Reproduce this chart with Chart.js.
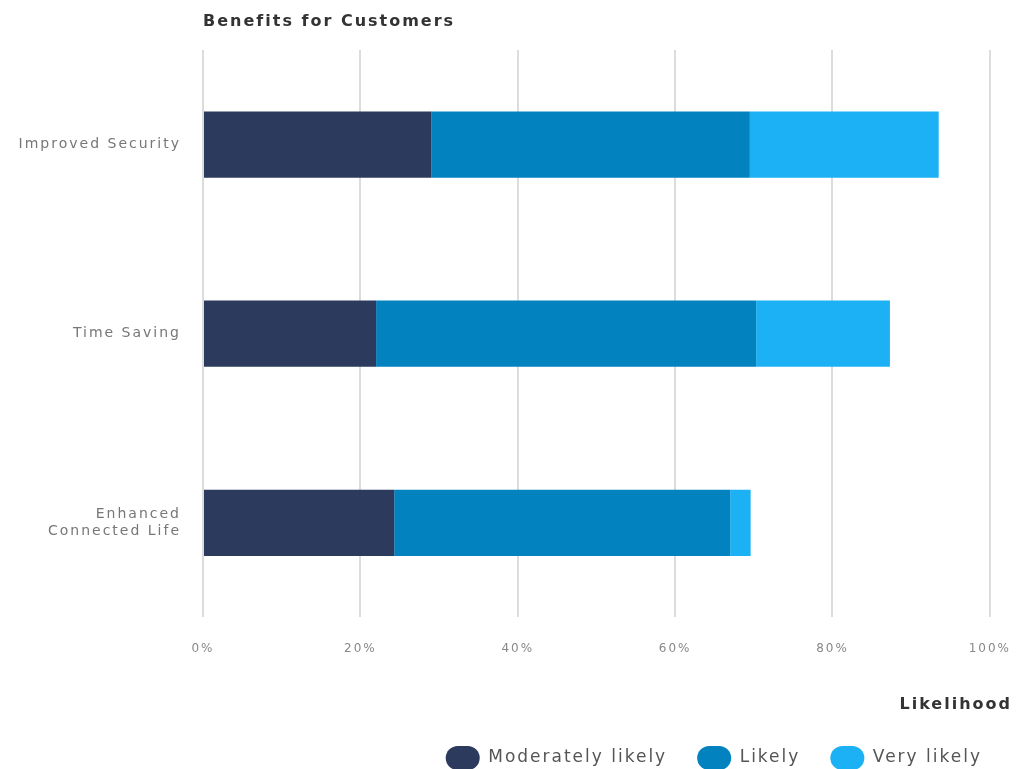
<!DOCTYPE html>
<html>
<head>
<meta charset="utf-8">
<script src="https://cdn.jsdelivr.net/npm/chart.js@4.4.0/dist/chart.umd.min.js"></script>
<style>
  body { margin: 0; background: #fff; }
  #wrap { width: 1018px; height: 769px; position: relative; }
</style>
</head>
<body>
<div id="wrap"><canvas id="benefitschart"></canvas></div>
<script>
// categories + series (percent)
const categories = ["Improved Security", "Time Saving", ["Enhanced", "Connected Life"]];
const moderatelyLikely = [29, 22, 24.3];
const likely = [40.5, 48.3, 42.7];
const veryLikely = [24, 17, 2.6];
const seriesNames = ["Moderately likely", "Likely", "Very likely"];
const seriesColors = ["#2c3a5e", "#0283bf", "#1cb0f4"];

const fontFamily = "'DejaVu Sans', sans-serif";

// wide, letter-spaced text like the original
const spacing = {
  id: "spacing",
  beforeLayout(chart) {
    chart.ctx.letterSpacing = "2px";
  },
  beforeDraw(chart) {
    chart.ctx.letterSpacing = "2px";
  },
};

// title drawn aligned to the plot area's left edge
const leftTitle = {
  id: "leftTitle",
  afterDraw(chart) {
    const ctx = chart.ctx;
    ctx.save();
    ctx.letterSpacing = "2px";
    ctx.font = "bold 16px " + fontFamily;
    ctx.fillStyle = "#333";
    ctx.textBaseline = "middle";
    ctx.textAlign = "left";
    ctx.fillText("Benefits for Customers", chart.chartArea.left, 22);
    ctx.restore();
  },
};

const ctx = document.getElementById("benefitschart").getContext("2d");
const benefitsChart = new Chart(ctx, {
  type: "bar",
  data: {
    labels: categories,
    datasets: [
      { label: seriesNames[0], data: moderatelyLikely, backgroundColor: seriesColors[0] },
      { label: seriesNames[1], data: likely, backgroundColor: seriesColors[1] },
      { label: seriesNames[2], data: veryLikely, backgroundColor: seriesColors[2] },
    ],
  },
  options: {
    indexAxis: "y",
    responsive: true,
    maintainAspectRatio: false,
    animation: false,
    layout: { padding: { top: 50, right: 6, left: 0, bottom: -11 } },
    datasets: {
      bar: { categoryPercentage: 1, barPercentage: 0.35 },
    },
    scales: {
      x: {
        stacked: true,
        min: 0,
        max: 100,
        border: { display: false },
        grid: {
          color: "#dcdcdc",
          lineWidth: 2,
          drawTicks: true,
          tickLength: 17,
          tickColor: "rgba(0,0,0,0)",
        },
        ticks: {
          stepSize: 20,
          padding: 7,
          color: "#888",
          font: { family: fontFamily, size: 12 },
          callback: (v) => v + "%",
        },
      },
      y: {
        stacked: true,
        border: { display: false },
        grid: { display: false },
        afterFit: (scale) => {
          scale.width = 203;
        },
        ticks: {
          padding: 14,
          color: "#777",
          font: { family: fontFamily, size: 14 },
        },
      },
    },
    plugins: {
      title: { display: false },
      tooltip: { enabled: false },
      legend: {
        position: "bottom",
        align: "end",
        title: {
          display: true,
          text: "Likelihood",
          position: "end",
          color: "#333",
          font: { family: fontFamily, size: 16, weight: "bold" },
          padding: { top: 34, bottom: 0 },
        },
        labels: {
          boxWidth: 34,
          boxHeight: 24,
          useBorderRadius: true,
          borderRadius: 12,
          padding: 30,
          color: "#555",
          font: { family: fontFamily, size: 17 },
        },
      },
    },
  },
  plugins: [spacing, leftTitle],
});
</script>
</body>
</html>
